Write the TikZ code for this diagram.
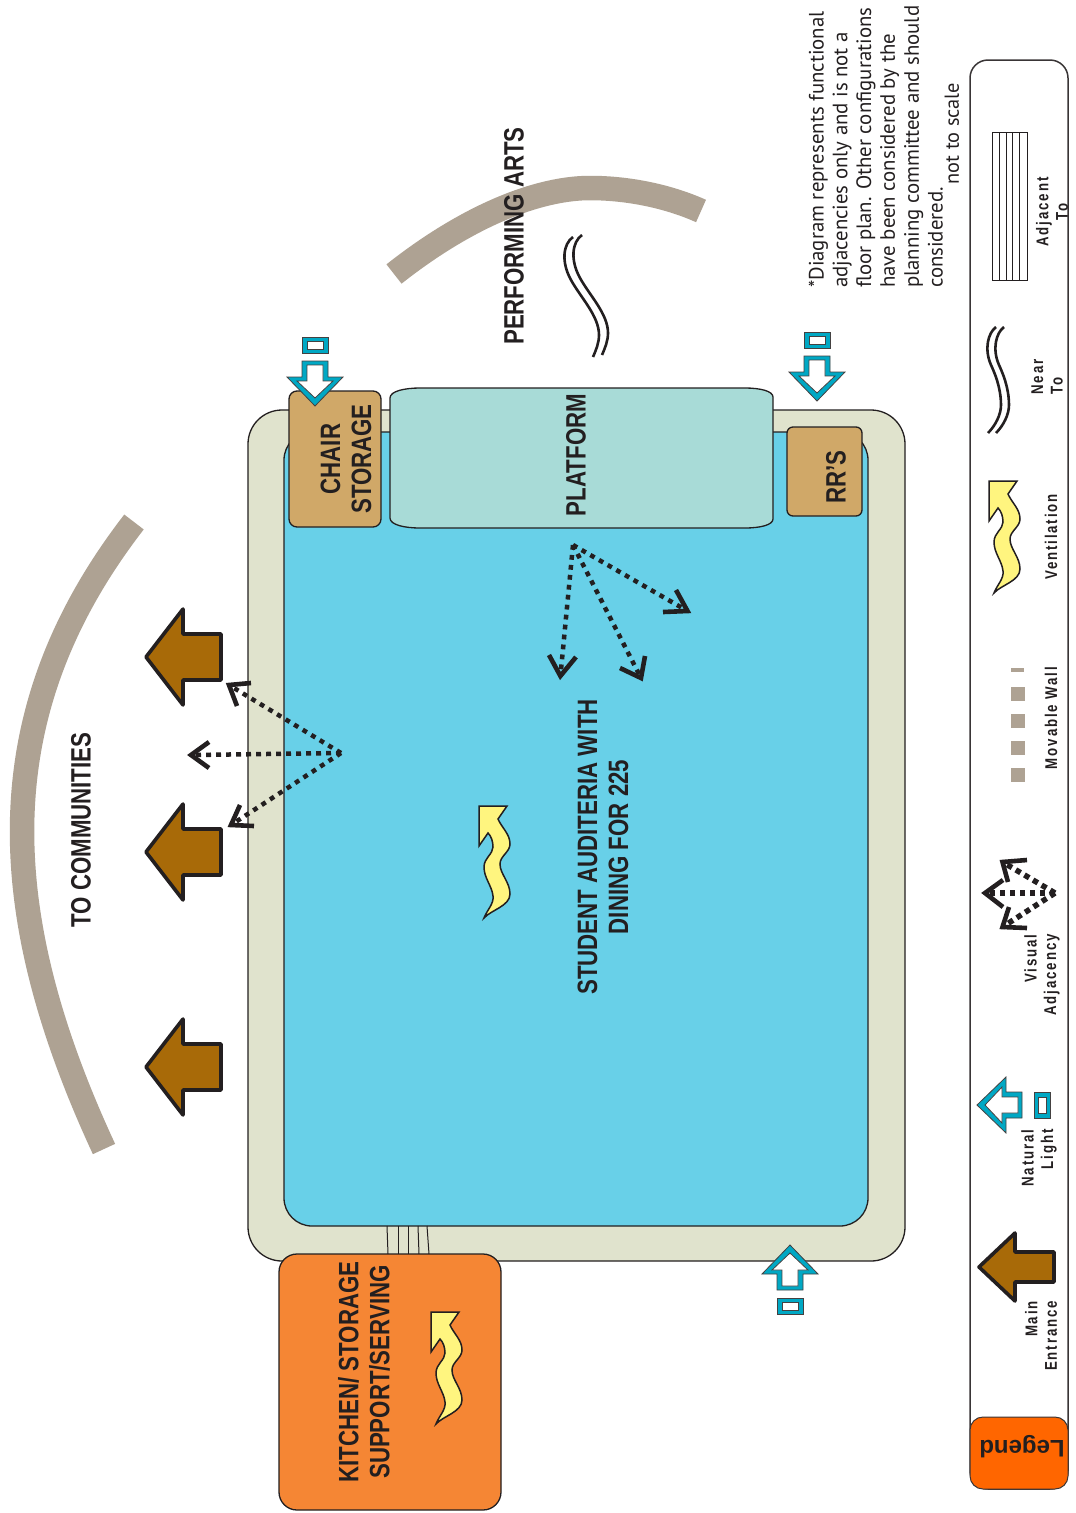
\documentclass[tikz,border=0pt]{standalone}
\usepackage{fontspec}
\setmainfont{Liberation Sans}
\newfontfamily\hdfont[FakeStretch=0.795]{Liberation Sans Bold}
\newfontfamily\lgfont[FakeStretch=0.78,LetterSpace=11]{Liberation Sans Bold}
\newfontfamily\notefont{PT Sans}
\definecolor{ink}{HTML}{231F20}
\definecolor{wallc}{HTML}{E0E3CD}
\definecolor{roomc}{HTML}{68D0E8}
\definecolor{platc}{HTML}{A8DBD7}
\definecolor{storc}{HTML}{D0A868}
\definecolor{kitc}{HTML}{F58634}
\definecolor{legc}{HTML}{FF6600}
\definecolor{arcc}{HTML}{AEA293}
\definecolor{brownc}{HTML}{A86A08}
\definecolor{tealc}{HTML}{00A8C4}
\definecolor{venc}{HTML}{FFF57F}
\tikzset{
  room/.style={draw=ink,line width=1.3pt},
  heading/.style={font=\hdfont\fontsize{28}{31}\selectfont,text=ink,rotate=90,align=center,inner sep=0pt},
  lglabel/.style={font=\lgfont\fontsize{17}{19.5}\selectfont,text=ink,rotate=90,inner sep=0pt},
  dotline/.style={ink,line width=4.5pt,dash pattern=on 4.8pt off 5.2pt},
  dotbig/.style={ink,line width=5.5pt,dash pattern=on 5.5pt off 4.5pt},
  openhead/.style={ink,line width=4.6pt,miter limit=10},
  sweep/.style={arcc,line width=24.5pt},
  brownarrow/.style={fill=brownc,draw=ink,line width=3.6pt,line join=round},
  nearline/.style={ink,line width=2.6pt},
  vent/.style={fill=venc,draw=ink,line width=1.5pt},
  tealout/.style={fill=tealc,draw=ink!85,line width=.8pt},
  tealin/.style={fill=white,draw=ink!85,line width=.8pt},
  stripe/.style={draw=ink,line width=1pt},
  wallpiece/.style={fill=arcc}
}
\newcommand{\BrownArrow}[2]{% tip x, tip y
  \draw[brownarrow,shift={(#1,#2)}] (0,0)--(37,-48)--(37,-23)--(75,-23)--(75,23)--(37,23)--(37,48)--cycle;}
\newcommand{\TealArrow}[3]{% tip x, tip y, rotation
  \begin{scope}[shift={(#1,#2)},rotate=#3]
    \draw[tealout] (0,0)--(-28,-29)--(-13,-29)--(-13,-45)--(13,-45)--(13,-29)--(28,-29)--cycle;
    \draw[tealin] (0,-8)--(-18,-25)--(-8,-25)--(-8,-41)--(8,-41)--(8,-25)--(18,-25)--cycle;
  \end{scope}}
\newcommand{\TealBox}[3]{% centre x, y, rotation
  \begin{scope}[shift={(#1,#2)},rotate=#3]
    \draw[tealout] (-13,-8)rectangle(13,8);
    \draw[tealin] (-8,-4)rectangle(8,4);
  \end{scope}}
\newcommand{\Vent}[2]{%
  \draw[vent,shift={(#1,#2)}] (0,0)--(28,0)--(19,13)
   .. controls (23,22) and (31,28) .. (31,38)
   .. controls (31,46) and (21,50) .. (21,58)
   .. controls (21,68) and (31,76) .. (31,88)
   .. controls (31,100) and (12,104) .. (5,112)
   .. controls (8,104) and (15,98) .. (14,90)
   .. controls (13,80) and (5,72) .. (5,61)
   .. controls (5,52) and (14,48) .. (14,41)
   .. controls (14,35) and (12,30) .. (9,27)
   --(0,40)--cycle;}
\begin{document}
\begin{tikzpicture}[x=1pt,y=-1pt]
\useasboundingbox (0,0) rectangle (1076,1513);
\fill[white] (0,0) rectangle (1076,1513);
% sweeps
\draw[sweep] (134,522) .. controls (-13,712) and (-7,910) .. (104,1149);
\draw[sweep] (394,274) .. controls (470,214) and (540,188) .. (590,188) .. controls (630,188) and (670,197) .. (701,211);
% building
\draw[room,fill=wallc,rounded corners=34pt] (248,410) rectangle (905,1261);
\draw[room,fill=roomc,rounded corners=28pt] (284,432) rectangle (868,1226);
% adjacency stripes
\coordinate (s1a) at (387,1226); \coordinate (s1b) at (388,1254);
\coordinate (s2a) at (398,1226); \coordinate (s2b) at (398,1254);
\coordinate (s3a) at (408,1226); \coordinate (s3b) at (408,1254);
\coordinate (s4a) at (418,1226); \coordinate (s4b) at (419,1254);
\coordinate (s5a) at (427,1226); \coordinate (s5b) at (429,1254);
\foreach \i in {1,...,5} \draw[stripe] (s\i a) -- (s\i b);
% rooms
\draw[room,fill=kitc,rounded corners=18pt] (279,1254) rectangle (501,1510);
\draw[room,fill=platc] (390,398) .. controls (390,391) and (405,388) .. (420,388) -- (745,388)
  .. controls (760,388) and (773,391) .. (773,397) -- (773,519)
  .. controls (773,525) and (760,528) .. (745,528) -- (420,528)
  .. controls (405,528) and (390,525) .. (390,518) -- cycle;
\draw[room,fill=storc,rounded corners=8pt] (289,391) rectangle (381,527);
\draw[room,fill=storc,rounded corners=6pt] (787,427) rectangle (862,516);
% labels
\node[heading] (lcomm) at (81,830) {TO COMMUNITIES};
\node[heading] (lperf) at (514,236) {PERFORMING ARTS};
\node[heading] (lstud) at (603,847) {STUDENT AUDITERIA WITH\\DINING FOR 225};
\node[heading] (lplat) at (576,455) {PLATFORM};
\node[heading] (lchair) at (346,459) {CHAIR\\STORAGE};
\node[heading] (lrr) at (836,477) {RR’S};
\node[heading] (lkit) at (364,1372) {KITCHEN/ STORAGE\\SUPPORT/SERVING};
% main arrows
\BrownArrow{146}{657}
\BrownArrow{146}{852}
\BrownArrow{146}{1067}
% light arrows
\TealArrow{315}{406}{0}
\TealBox{315}{345}{0}
\TealArrow{817}{401}{0}
\TealBox{817}{340}{0}
\TealArrow{790}{1245}{180}
\TealBox{790}{1306}{180}
% ventilation
\Vent{479}{806}
\Vent{431}{1312}
% near-to
\draw[nearline] (573,237) .. controls (563,244) and (561,262) .. (571,280) .. controls (581,298) and (599,316) .. (599,335) .. controls (599,343) and (596,350) .. (593,357);
\draw[nearline] (582,235) .. controls (572,242) and (570,260) .. (580,278) .. controls (590,296) and (608,314) .. (608,333) .. controls (608,341) and (605,348) .. (602,355);
% visual adjacency: communities
\coordinate (va) at (341,753);
\coordinate (va1) at (229,685); \coordinate (va1a) at (251,683); \coordinate (va1b) at (237,706);
\coordinate (va2) at (191,755); \coordinate (va2a) at (209,742); \coordinate (va2b) at (209,768);
\coordinate (va3) at (231,825); \coordinate (va3a) at (254,826); \coordinate (va3b) at (240,805);
\foreach \i in {1,2,3}{
  \draw[dotline] (va) -- (va\i);
  \draw[openhead] (va\i a) -- (va\i) -- (va\i b);}
% visual adjacency: platform
\coordinate (vb) at (573,545);
\coordinate (vb1) at (560.4,676); \coordinate (vb1a) at (549,655); \coordinate (vb1b) at (576,657);
\coordinate (vb2) at (641,678); \coordinate (vb2a) at (620,668); \coordinate (vb2b) at (645,656);
\coordinate (vb3) at (687.5,611); \coordinate (vb3a) at (676,590); \coordinate (vb3b) at (663,612);
\foreach \i in {1,2,3}{
  \draw[dotline] (vb) -- (vb\i);
  \draw[openhead] (vb\i a) -- (vb\i) -- (vb\i b);}
% note
\node[font=\notefont\fontsize{20.8}{23.8}\selectfont,text=ink,rotate=90,align=left,anchor=north west,inner sep=0pt] (note) at (808.5,288) {*Diagram represents functional\\adjacencies only and is not a\\floor plan. Other configurations\\have been considered by the\\planning committee and should\\considered.};
\node[font=\notefont\fontsize{20.3}{23.8}\selectfont,text=ink,rotate=90,inner sep=0pt] (scale) at (952,133.5) {not to scale};
% legend
\draw[draw=ink!90,line width=1.5pt,fill=white,rounded corners=18pt] (970,60) rectangle (1068,1489);
\draw[draw=ink!90,line width=1pt,fill=legc,rounded corners=13pt] (970,1417) rectangle (1068,1489);
\node[font=\bfseries\fontsize{24}{26}\selectfont,text=ink,rotate=180,inner sep=0pt] (lleg) at (1022,1447) {Legend};
% legend symbols
\draw[brownarrow,shift={(979,1267)}] (0,0)--(36,-34)--(36,-15)--(75,-15)--(75,15)--(36,15)--(36,34)--cycle;
\TealArrow{977}{1105}{-90}
\TealBox{1042}{1105}{-90}
\coordinate (vc) at (1055,893);
\coordinate (vc1) at (1002.5,862); \coordinate (vc1a) at (1027,860); \coordinate (vc1b) at (1008,882);
\coordinate (vc2) at (985,893); \coordinate (vc2a) at (1003,880); \coordinate (vc2b) at (1003,907);
\coordinate (vc3) at (1002.5,927); \coordinate (vc3a) at (1027,928); \coordinate (vc3b) at (1009,907);
\foreach \i in {1,2,3}{
  \draw[dotbig] (vc) -- (vc\i);
  \draw[openhead] (vc\i a) -- (vc\i) -- (vc\i b);}
\foreach \y in {768,741,714,687} \fill[wallpiece] (1011,\y) rectangle (1025,\y+14);
\fill[wallpiece] (1011,668) rectangle (1024,672);
\Vent{989}{481}
\draw[nearline] (996,327) .. controls (988,333) and (984,349) .. (991,365) .. controls (998,380) and (1001,393) .. (1001,405) .. controls (1001,415) and (995,426) .. (988,433);
\draw[nearline] (1004,327) .. controls (996,333) and (992,349) .. (999,365) .. controls (1006,380) and (1009,393) .. (1009,405) .. controls (1009,415) and (1003,426) .. (996,433);
\draw[stripe,fill=white] (992,132) rectangle (1027,280);
\foreach \x in {999,1006,1012,1019} \draw[stripe] (\x,132) -- (\x,280);
% legend labels
\node[lglabel,align=right] (l1) at (1041,1336) {Main\\Entrance};
\node[lglabel,align=right] (l2) at (1039,1158) {Natural\\Light};
\node[lglabel,align=right] (l3) at (1042,975) {Visual\\Adjacency};
\node[lglabel] (l4) at (1051,718) {Movable Wall};
\node[lglabel] (l5) at (1051,537) {Ventilation};
\node[lglabel,align=left] (l6) at (1047,377) {Near\\To};
\node[lglabel,align=center] (l7) at (1052,212) {Adjacent\\To};
\end{tikzpicture}
\end{document}
